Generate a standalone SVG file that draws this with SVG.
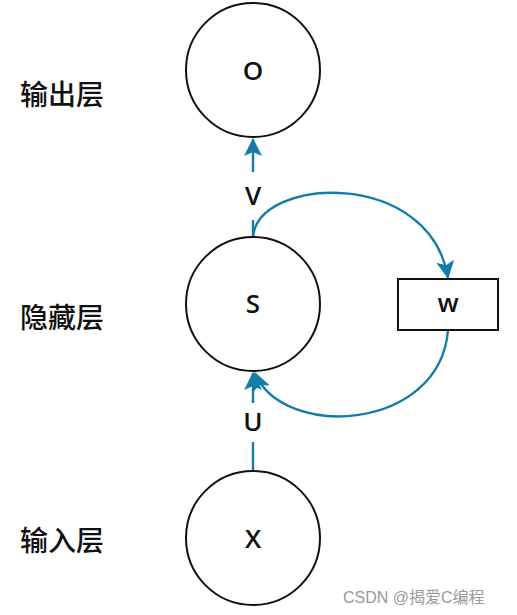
<svg xmlns="http://www.w3.org/2000/svg" width="517" height="615" viewBox="0 0 517 615">
<style>
.node{fill:#fff;stroke:#111;stroke-width:2}
.lbl{font-family:"Open Sans","Noto Sans",sans-serif;font-size:26px;font-weight:600;fill:#111;text-anchor:middle;dominant-baseline:central}
.layer{font-family:"Noto Sans CJK SC",sans-serif;font-size:28px;font-weight:500;fill:#111}
.edge{fill:none;stroke:#137ca8;stroke-width:2.4}
.wm{font-family:"Liberation Sans","Noto Sans CJK SC",sans-serif;font-size:16px;fill:#999}
</style>
<defs>
<marker id="ah2" viewBox="0 0 18 18" refX="17" refY="9" markerWidth="18" markerHeight="18" orient="auto" markerUnits="userSpaceOnUse">
<path d="M0,0 L18,9 L0,18 L4,9 Z" fill="#137ca8"/>
</marker>
</defs>
<g id="connectors">
<path class="edge" d="M253,237 L253,220 M253,172 L253,139" marker-end="url(#ah2)"/>
<path class="edge" d="M253,471 L253,442 M253,403 L253,373" marker-end="url(#ah2)"/>
<path class="edge" d="M253,237 C258,176 430,168 448,278" marker-end="url(#ah2)"/>
<path class="edge" d="M448,330 C440,432 282,440 255,373" marker-end="url(#ah2)"/>
<text class="lbl" x="253" y="195">V</text>
<text class="lbl" x="253" y="421">U</text>
</g>
<g id="node-O"><circle class="node" cx="253" cy="70" r="67"/><text class="lbl" x="253" y="70">O</text></g>
<g id="node-S"><circle class="node" cx="253" cy="304" r="67"/><text class="lbl" x="253" y="303">S</text></g>
<g id="node-X"><circle class="node" cx="253" cy="538" r="67"/><text class="lbl" x="253" y="538">X</text></g>
<g id="node-w"><rect class="node" x="398" y="279" width="100" height="51"/><text class="lbl" x="448" y="302">w</text></g>
<g id="layers">
<text class="layer" x="20" y="105">输出层</text>
<text class="layer" x="20" y="328">隐藏层</text>
<text class="layer" x="20" y="551">输入层</text>
</g>
<text class="wm" x="343" y="603">CSDN @揭爱C编程</text>
</svg>
